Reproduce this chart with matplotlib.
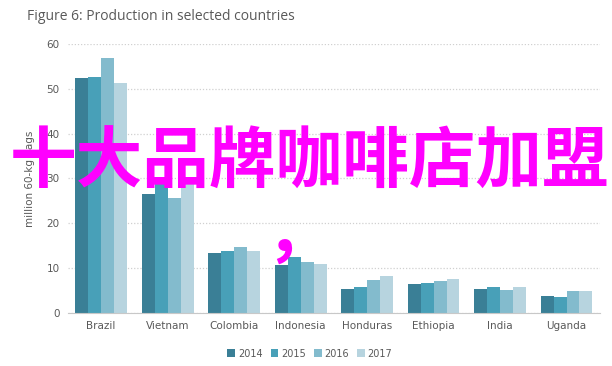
import numpy as np
import matplotlib.pyplot as plt

# data (million 60-kg bags)
countries = ["Brazil", "Vietnam", "Colombia", "Indonesia", "Honduras", "Ethiopia", "India", "Uganda"]
years = ["2014", "2015", "2016", "2017"]
prod_2014 = [52.3, 26.5, 13.3, 10.8, 5.3, 6.5, 5.4, 3.7]
prod_2015 = [52.6, 28.8, 13.9, 12.4, 5.7, 6.6, 5.7, 3.6]
prod_2016 = [56.8, 25.6, 14.6, 11.4, 7.4, 7.2, 5.1, 4.9]
prod_2017 = [51.2, 29.3, 13.9, 10.9, 8.2, 7.6, 5.8, 5.0]

colors = ["#3a7f96", "#48a0b8", "#83bbcd", "#b7d4df"]
grey = "#595959"

fig = plt.figure(figsize=(6.12, 3.66), dpi=100)
ax = fig.add_axes([0.111, 0.145, 0.869, 0.735])

x = np.arange(len(countries))
w = 0.195
for i, (vals, yr) in enumerate(zip([prod_2014, prod_2015, prod_2016, prod_2017], years)):
    ax.bar(x + (i - 1.5) * w, vals, w, color=colors[i], label=yr, zorder=2)

ax.set_xlim(-0.5, len(countries) - 0.5)
ax.set_ylim(0, 60)
ax.set_yticks(range(0, 61, 10))
ax.set_xticks(x)
ax.set_xticklabels(countries)
ax.tick_params(axis="both", length=0, labelsize=7.5, labelcolor=grey, pad=6)
ax.yaxis.grid(True, linestyle=(0, (1, 1.5)), color="#d0d0d0", linewidth=0.9, zorder=0)
for s in ["top", "right", "left"]:
    ax.spines[s].set_visible(False)
ax.spines["bottom"].set_color("#c8c8c8")
ax.set_ylabel("million 60-kg bags", fontsize=7.5, color=grey, labelpad=8)

ax.legend(loc="upper center", bbox_to_anchor=(0.455, -0.1), ncol=4, frameon=False,
          fontsize=7, labelcolor=grey, handlelength=0.8, handleheight=0.8,
          handletextpad=0.3, columnspacing=0.8)

fig.text(0.044, 0.955, "Figure 6: Production in selected countries", fontsize=10,
         color=grey, ha="left", va="center", family=["Open Sans", "DejaVu Sans"])

# magenta overlay text
fig.text(0.505, 0.554, "十大品牌咖啡店加盟", fontsize=48, fontweight="bold", color="#ff00ff",
         ha="center", va="center", family=["Noto Sans CJK SC", "DejaVu Sans"])
fig.text(0.488, 0.358, "，", fontsize=48, fontweight="bold", color="#ff00ff",
         ha="center", va="center", family=["Noto Sans CJK SC", "DejaVu Sans"])

fig.savefig("out.png", dpi=100)
